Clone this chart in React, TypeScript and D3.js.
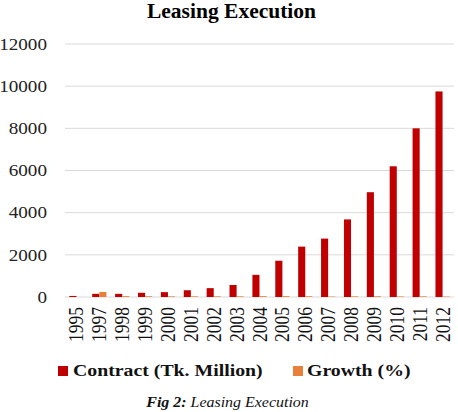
import React from "react";
import * as d3 from "d3";

const years = ["1995","1997","1998","1999","2000","2001","2002","2003","2004","2005","2006","2007","2008","2009","2010","2011","2012"];
const contract = [50,150,150,200,230,320,420,570,1050,1720,2390,2770,3680,4970,6200,8000,9750];
const growth = [0,240,40,35,30,30,30,30,40,40,35,20,30,35,25,30,20];
const yTicks = [0,2000,4000,6000,8000,10000,12000];
const seriesNames = ["Contract (Tk. Million)", "Growth (%)"];
const colors = ["#C00000", "#E8803A"];

const W = 458, H = 412;
const left = 65, right = 454, top = 44, bottom = 297;
const serif = "'Liberation Serif', 'Times New Roman', Times, serif";
const ts = { fontFamily: serif };

export default function App() {
  const x = d3.scaleBand<string>().domain(years).range([left, right]).paddingInner(0.38).paddingOuter(0.19);
  const x1 = d3.scaleBand<number>().domain([0, 1]).range([0, x.bandwidth()]);
  const y = d3.scaleLinear().domain([0, 12000]).range([bottom, top]);
  const series = [contract, growth];

  return (
    <svg width={W} height={H} style={{ position: "absolute", left: 0, top: 0, background: "#fff" }}>
      <rect width={W} height={H} fill="#fff" />
      <text style={ts} transform={`translate(231.5,17.5) scale(1.05,1)`} textAnchor="middle" fontSize={20.5} fontWeight="bold" fill="#000">Leasing Execution</text>
      {yTicks.map(t => (
        <g key={t}>
          <line x1={left} x2={right} y1={y(t)} y2={y(t)} stroke="#d9d9d9" strokeWidth={1} />
          <text style={ts} transform={`translate(47,${y(t)}) scale(1.16,1)`} dy="0.35em" textAnchor="end" fontSize={16.5} fill="#222">{t}</text>
        </g>
      ))}
      {years.map((yr, i) => (
        <g key={yr}>
          {series.map((s, k) => (
            s[i] > 0 ? <rect key={k} x={(x(yr) as number) + (x1(k) as number)} y={y(s[i])} width={x1.bandwidth()} height={bottom - y(s[i])} fill={colors[k]} /> : null
          ))}
          <text style={ts} transform={`translate(${(x(yr) as number) + x.bandwidth() / 2},307) scale(1.15,1) rotate(-90)`} dy="0.35em" textAnchor="end" fontSize={17.5} fill="#111">{yr}</text>
        </g>
      ))}
      <rect x={58} y={366} width={10} height={10} fill={colors[0]} />
      <text style={ts} transform="translate(73,376) scale(1.2,1)" fontSize={16.5} fontWeight="bold" fill="#111">{seriesNames[0]}</text>
      <rect x={293} y={366} width={10} height={10} fill={colors[1]} />
      <text style={ts} transform="translate(307,376) scale(1.2,1)" fontSize={16.5} fontWeight="bold" fill="#111">{seriesNames[1]}</text>
      <text style={ts} transform="translate(227.5,407) scale(1.1,1)" textAnchor="middle" fontSize={14.5} fontStyle="italic" fill="#111">
        <tspan fontWeight="bold">Fig 2:</tspan> Leasing Execution
      </text>
    </svg>
  );
}
